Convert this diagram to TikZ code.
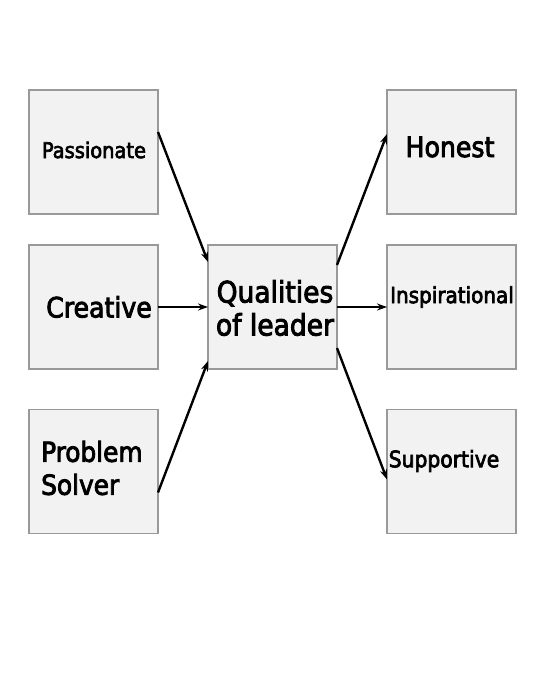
\documentclass[tikz,border=0pt]{standalone}
\usepackage{fontspec}
\setmainfont{DejaVu Sans Condensed}[FakeBold=3]
\usetikzlibrary{arrows.meta,calc}
\begin{document}
\begin{tikzpicture}[x=1pt,y=-1pt,
  box/.style={draw=gray!80,fill=gray!10,line width=1.2pt,minimum width=129pt,minimum height=124pt,inner sep=0pt,outer sep=0pt},
  txt/.style={inner sep=0pt,align=left},
  conn/.style={line width=2.4pt,-{Stealth[length=10pt,width=7pt]}}]
\fill[white] (0,0) rectangle (535,693);
\useasboundingbox (0,0) rectangle (535,693);
\node[box] (pass) at (93.5,152) {};
\node[box] (crea) at (93.5,307) {};
\node[box] (prob) at (93.5,471.5) {};
\node[box] (qual) at (272.5,307) {};
\node[box] (hone) at (451.5,152) {};
\node[box] (insp) at (451.5,307) {};
\node[box] (supp) at (451.5,471.5) {};
\node[txt,font=\fontsize{21.6}{26}\selectfont] (tpass) at (94,150) {Passionate};
\node[txt,font=\fontsize{28}{33}\selectfont] (tcrea) at (99,307) {Creative};
\node[txt,font=\fontsize{27.6}{33}\selectfont,anchor=west] (tprob) at (41,468) {Problem\\Solver};
\node[txt,font=\fontsize{29.5}{33}\selectfont,align=center] (tqual) at (275,308) {Qualities\\of leader};
\node[txt,font=\fontsize{28}{33}\selectfont] (thone) at (450,147) {Honest};
\node[txt,font=\fontsize{22.2}{26}\selectfont] (tinsp) at (452,297) {Inspirational};
\node[txt,font=\fontsize{22.6}{26}\selectfont] (tsupp) at (444,461) {Supportive};
\draw[conn] ($(pass.north east)+(0,42)$) -- ($(qual.north west)+(0,17)$);
\draw[conn] (crea.east) -- (qual.west);
\draw[conn] ($(prob.south east)+(0,-41)$) -- ($(qual.south west)+(0,-8)$);
\draw[conn] ($(qual.north east)+(0,20)$) -- ($(hone.north west)+(0,44)$);
\draw[conn] (qual.east) -- (insp.west);
\draw[conn] ($(qual.south east)+(0,-21)$) -- ($(supp.north west)+(0,70)$);
\end{tikzpicture}
\end{document}
